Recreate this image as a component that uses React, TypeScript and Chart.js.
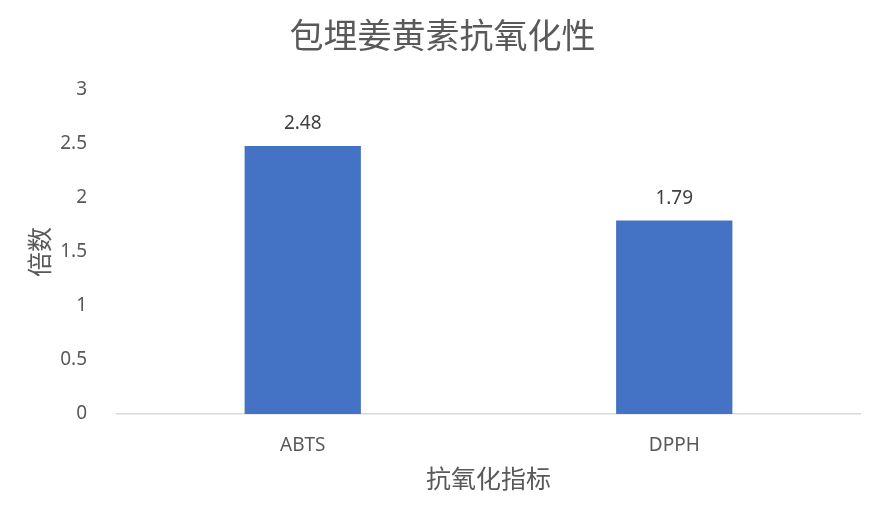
import { useEffect, useRef } from 'react';
import Chart from 'chart.js/auto';
import type { Chart as ChartJS, Plugin } from 'chart.js';

const categories = ['ABTS', 'DPPH'];
const values = [2.48, 1.79];
const chartTitle = '包埋姜黄素抗氧化性';
const yTitle = '倍数';
const xTitle = '抗氧化指标';

const FONT = '"Noto Sans", "Noto Sans CJK SC", sans-serif';
const TEXT = '#595959';

// 柱顶数值标签
const valueLabels: Plugin<'bar'> = {
    id: 'valueLabels',
    afterDatasetsDraw(chart) {
        const ctx = chart.ctx;
        const meta = chart.getDatasetMeta(0);
        ctx.save();
        ctx.font = `19px ${FONT}`;
        ctx.fillStyle = '#404040';
        ctx.textAlign = 'center';
        ctx.textBaseline = 'middle';
        meta.data.forEach((bar, i) => {
            ctx.fillText(values[i].toFixed(2), bar.x, bar.y - 22);
        });
        ctx.restore();
    },
};

export default function App() {
    const canvasRef = useRef<HTMLCanvasElement | null>(null);
    const chartRef = useRef<ChartJS<'bar'> | null>(null);

    useEffect(() => {
        const canvas = canvasRef.current;
        if (!canvas) return;

        chartRef.current = new Chart(canvas, {
            type: 'bar',
            data: {
                labels: categories,
                datasets: [
                    {
                        data: values,
                        backgroundColor: '#4472C4',
                        borderWidth: 0,
                        categoryPercentage: 1,
                        barPercentage: 0.313,
                    },
                ],
            },
            options: {
                responsive: false,
                animation: false,
                layout: { padding: 0 },
                plugins: {
                    legend: { display: false },
                    tooltip: { enabled: false },
                    title: {
                        display: true,
                        text: chartTitle,
                        color: TEXT,
                        font: { family: FONT, size: 34, weight: 'normal' },
                        padding: { top: 18, bottom: 31 },
                    },
                },
                scales: {
                    x: {
                        grid: { display: false },
                        border: { display: true, color: '#d9d9d9', width: 1.5 },
                        ticks: { color: TEXT, font: { family: FONT, size: 19 }, padding: 12 },
                        title: {
                            display: true,
                            text: xTitle,
                            color: TEXT,
                            font: { family: FONT, size: 25 },
                            padding: { top: 0, bottom: 29 },
                        },
                        afterFit: (scale) => {
                            scale.height = 111;
                        },
                    },
                    y: {
                        min: 0,
                        max: 3,
                        grid: { display: false },
                        border: { display: false },
                        ticks: {
                            stepSize: 0.5,
                            color: TEXT,
                            font: { family: FONT, size: 19 },
                            padding: 22,
                            callback: (v) => String(Number(v)),
                        },
                        title: {
                            display: true,
                            text: yTitle,
                            color: TEXT,
                            font: { family: FONT, size: 25 },
                            padding: { top: 27, bottom: 0 },
                        },
                        afterFit: (scale) => {
                            scale.width = 117;
                        },
                    },
                    // 右侧留白，让标题在整张图里居中
                    spacer: {
                        type: 'linear',
                        position: 'right',
                        grid: { display: false },
                        border: { display: false },
                        ticks: { display: false },
                        afterFit: (scale) => {
                            scale.width = 25;
                        },
                    },
                },
            },
            plugins: [valueLabels],
        });

        return () => {
            chartRef.current?.destroy();
            chartRef.current = null;
        };
    }, []);

    return (
        <div style={{ position: 'fixed', left: 0, top: 0, width: 885, height: 525, background: '#fff' }}>
            <canvas ref={canvasRef} width={885} height={525} style={{ width: 885, height: 525 }} />
        </div>
    );
}
